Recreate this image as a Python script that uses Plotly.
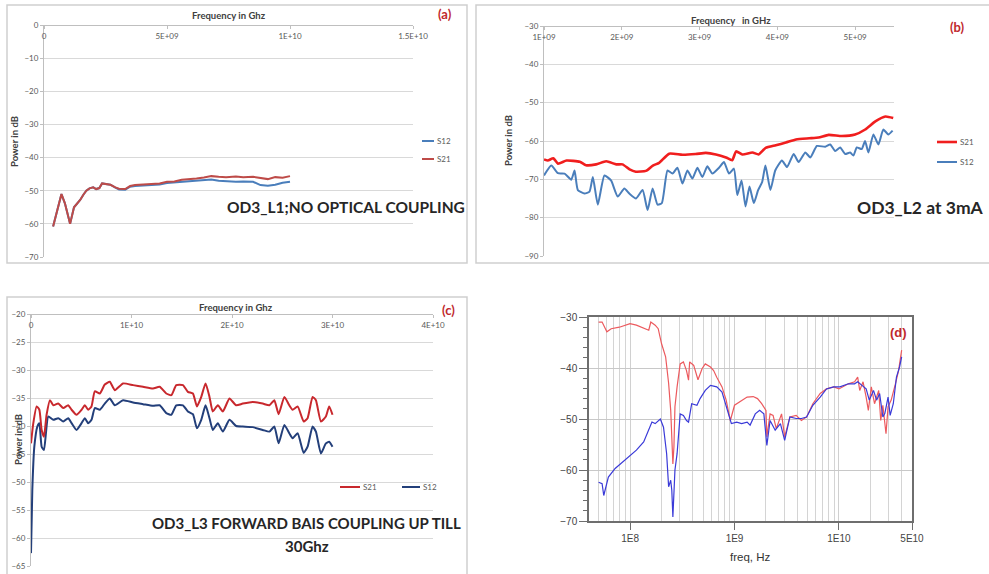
import plotly.graph_objects as go

W, H = 989, 574

# ---------------- Panel (a): OD3_L1, no optical coupling ----------------
a_freq_ghz = [0.37, 0.55, 0.71, 0.85, 0.95, 1.06, 1.22, 1.35, 1.47, 1.6, 1.72, 1.85, 2.0, 2.12,
              2.25, 2.36, 2.5, 2.7, 2.9, 3.05, 3.3, 3.5, 3.7, 4.0, 4.35, 4.7, 5.0, 5.3, 5.6, 5.9,
              6.2, 6.5, 6.8, 7.1, 7.4, 7.8, 8.1, 8.5, 8.8, 9.1, 9.4, 9.7, 10.0]
a_s21 = [-60.8, -55.5, -51.0, -53.8, -56.5, -60.0, -55.0, -54.0, -52.8, -51.2, -50.0, -49.3, -49.0,
         -49.5, -49.2, -47.8, -48.0, -48.2, -49.0, -49.4, -49.5, -48.6, -48.3, -48.1, -48.0, -47.8,
         -47.3, -47.2, -46.7, -46.6, -46.3, -46.0, -45.6, -45.8, -45.9, -45.7, -45.9, -45.8, -46.2,
         -46.5, -45.9, -46.1, -45.6]
a_s12 = [-60.8, -55.5, -51.0, -53.8, -56.5, -60.0, -55.0, -54.0, -52.8, -51.2, -50.0, -49.3, -49.0,
         -49.5, -49.2, -47.8, -48.0, -48.2, -49.1, -49.6, -49.7, -48.8, -48.6, -48.5, -48.4, -48.1,
         -47.7, -47.5, -47.2, -47.1, -47.0, -46.8, -46.6, -47.0, -47.2, -47.3, -47.2, -47.3, -48.3,
         -48.5, -48.2, -47.6, -47.3]
a_xticks = [0, 5e9, 1e10, 1.5e10]
a_xlabels = ["0", "5E+09", "1E+10", "1.5E+10"]

# ---------------- Panel (b): OD3_L2 at 3mA ----------------
b_s21_freq_ghz = [1.00, 1.05, 1.12, 1.18, 1.29, 1.46, 1.54, 1.67, 1.80, 1.93, 2.01, 2.10, 2.18, 2.31,
                  2.40, 2.48, 2.61, 2.78, 2.95, 3.08, 3.21, 3.34, 3.42, 3.47, 3.55, 3.68, 3.76, 3.85,
                  3.98, 4.11, 4.24, 4.41, 4.53, 4.66, 4.83, 5.00, 5.13, 5.26, 5.39, 5.49]
b_s21 = [-64.8, -65.1, -64.5, -65.9, -65.1, -65.4, -66.3, -66.1, -65.3, -66.1, -66.1, -67.4, -68.0,
         -67.8, -66.4, -65.7, -63.3, -63.6, -63.4, -63.1, -63.5, -64.3, -65.0, -62.7, -63.5, -63.0,
         -63.5, -61.8, -61.1, -60.4, -59.6, -59.3, -59.1, -58.4, -58.7, -58.3, -57.0, -54.9, -53.6,
         -54.0]
b_s12_freq_ghz = [1.000, 1.094, 1.179, 1.265, 1.350, 1.393, 1.435, 1.521, 1.585, 1.628, 1.692, 1.777,
                  1.862, 1.948, 2.033, 2.097, 2.183, 2.268, 2.332, 2.396, 2.460, 2.515, 2.588, 2.652,
                  2.716, 2.780, 2.844, 2.908, 2.972, 3.036, 3.100, 3.165, 3.250, 3.314, 3.378, 3.442,
                  3.485, 3.540, 3.591, 3.642, 3.698, 3.753, 3.805, 3.847, 3.911, 3.973, 4.059, 4.125,
                  4.210, 4.274, 4.360, 4.424, 4.509, 4.616, 4.680, 4.744, 4.808, 4.872, 4.936, 4.979,
                  5.021, 5.085, 5.128, 5.171, 5.235, 5.299, 5.363, 5.427, 5.482]
b_s12 = [-69.0, -66.4, -68.4, -68.5, -70.1, -67.7, -72.8, -73.7, -73.2, -69.4, -76.6, -69.0, -70.3,
         -74.5, -72.4, -73.7, -75.0, -72.8, -78.0, -72.4, -76.6, -76.2, -67.7, -68.5, -67.0, -71.1,
         -67.7, -69.8, -67.0, -69.4, -66.6, -68.5, -67.0, -65.5, -68.5, -67.2, -74.1, -70.3, -77.1,
         -71.9, -76.2, -72.8, -70.7, -66.4, -72.8, -67.7, -65.1, -66.8, -63.4, -65.5, -63.0, -64.3,
         -61.3, -61.5, -60.9, -62.6, -61.7, -63.4, -63.0, -63.8, -61.7, -62.1, -60.0, -63.0, -58.3,
         -60.9, -57.0, -58.3, -57.3]
b_xticks = [1e9, 2e9, 3e9, 4e9, 5e9]
b_xlabels = ["1E+09", "2E+09", "3E+09", "4E+09", "5E+09"]

# ---------------- Panel (c): OD3_L3 forward bias ----------------
c_freq_ghz = [0.0, 0.23, 0.56, 0.83, 1.06, 1.29, 1.55, 1.89, 2.22, 2.71, 3.21, 3.70, 4.04, 4.53, 5.03,
              5.36, 5.69, 6.02, 6.35, 6.85, 7.34, 7.84, 8.34, 9.16, 10.16, 11.15, 12.14, 12.80, 13.46,
              13.96, 14.46, 15.12, 15.61, 16.11, 16.51, 16.94, 17.37, 17.76, 18.09, 18.59, 19.09,
              19.75, 20.41, 21.07, 22.06, 23.06, 23.72, 24.21, 24.64, 25.21, 25.70, 26.03, 26.53,
              27.13, 27.52, 28.02, 28.35, 28.85, 29.34, 29.67, 30.00]
c_s21 = [-43.1, -39.5, -36.5, -37.1, -40.7, -41.9, -38.0, -35.4, -36.3, -36.0, -36.8, -36.3, -37.1,
         -38.0, -37.1, -36.3, -37.1, -36.5, -33.8, -34.2, -32.6, -32.1, -33.6, -32.4, -32.7, -33.0,
         -33.3, -33.0, -34.2, -34.5, -32.7, -32.7, -33.9, -34.2, -36.5, -34.8, -32.4, -34.8, -37.4,
         -36.3, -37.4, -35.1, -36.3, -36.0, -35.7, -36.0, -36.3, -35.4, -37.9, -34.8, -36.3, -37.1,
         -36.5, -39.2, -38.6, -34.8, -35.4, -39.2, -38.3, -36.5, -38.0]
c_s12 = [-62.7, -51.4, -43.7, -40.1, -39.5, -43.7, -44.3, -38.3, -38.9, -38.6, -39.2, -38.6, -39.5,
         -40.7, -39.5, -38.6, -39.5, -38.9, -36.8, -37.1, -36.0, -35.1, -36.3, -35.4, -35.8, -36.1,
         -36.4, -36.3, -37.7, -38.0, -36.3, -36.3, -37.4, -37.9, -40.4, -38.9, -36.3, -38.6, -40.7,
         -39.5, -41.0, -38.9, -40.0, -40.1, -40.2, -40.7, -41.0, -40.1, -43.1, -39.8, -41.3, -42.2,
         -41.3, -44.8, -43.7, -40.1, -41.0, -44.9, -43.1, -42.8, -43.7]
c_s12_freq_ghz = [0.0, 0.13, 0.33, 0.63, 0.83, 1.06, 1.29, 1.72, 2.22, 2.71, 3.21, 3.70, 4.04, 4.53,
                  5.03, 5.36, 5.69, 6.02, 6.35, 6.85, 7.34, 7.84, 8.34, 9.16, 10.16, 11.15, 12.14,
                  12.80, 13.46, 13.96, 14.46, 15.12, 15.61, 16.11, 16.51, 16.94, 17.37, 17.76, 18.09,
                  18.59, 19.09, 19.75, 20.41, 21.07, 22.06, 23.06, 23.72, 24.21, 24.64, 25.21, 25.70,
                  26.03, 26.53, 27.13, 27.52, 28.02, 28.35, 28.85, 29.34, 29.67, 30.00]
c_xticks = [0, 1e10, 2e10, 3e10, 4e10]
c_xlabels = ["0", "1E+10", "2E+10", "3E+10", "4E+10"]

# ---------------- Panel (d): log-frequency measurement ----------------
d_red_freq = [5.0e7, 5.4e7, 6.0e7, 6.6e7, 7.9e7, 1.0e8, 1.15e8, 1.38e8, 1.51e8, 1.58e8, 1.74e8, 1.86e8,
              2.0e8, 2.19e8, 2.34e8, 2.45e8, 2.57e8, 2.63e8, 2.69e8, 2.82e8, 3.02e8, 3.24e8, 3.47e8,
              3.63e8, 3.72e8, 4.07e8, 4.37e8, 4.47e8, 4.9e8, 5.25e8, 5.89e8, 6.31e8, 6.76e8, 7.59e8,
              8.32e8, 9.12e8, 1.0e9, 1.12e9, 1.32e9, 1.51e9, 1.66e9, 1.82e9, 2.0e9, 2.04e9, 2.19e9,
              2.34e9, 2.51e9, 2.82e9, 3.02e9, 3.39e9, 3.89e9, 4.37e9, 4.9e9, 5.62e9, 6.61e9, 7.59e9,
              8.91e9, 1.0e10, 1.23e10, 1.41e10, 1.51e10, 1.58e10, 1.7e10, 1.82e10, 1.91e10, 2.04e10,
              2.19e10, 2.4e10, 2.51e10, 2.63e10, 2.82e10, 2.95e10, 3.16e10, 3.47e10, 3.72e10, 3.98e10]
d_red = [-31.0, -31.0, -32.9, -32.3, -32.0, -31.3, -31.6, -32.3, -32.6, -31.0, -31.6, -32.3, -35.2,
         -37.8, -43.0, -48.3, -58.8, -55.5, -47.6, -43.7, -39.2, -38.8, -40.5, -42.4, -38.8, -39.5,
         -41.4, -42.3, -40.1, -39.2, -39.8, -40.5, -41.8, -43.7, -46.3, -50.3, -47.3, -46.7, -45.7,
         -45.6, -46.0, -47.0, -48.3, -53.5, -49.0, -49.3, -51.9, -49.0, -53.5, -49.6, -49.3, -50.3,
         -49.6, -47.0, -45.0, -44.1, -43.7, -44.1, -43.1, -42.7, -41.8, -44.4, -42.7, -45.7, -48.3,
         -43.7, -47.0, -44.4, -50.3, -47.3, -52.9, -47.6, -46.3, -43.1, -40.5, -36.5]
d_blue_freq = [5.0e7, 5.4e7, 5.6e7, 5.9e7, 6.2e7, 7.2e7, 7.8e7, 8.7e7, 1.0e8, 1.15e8, 1.35e8, 1.51e8,
               1.62e8, 1.74e8, 1.95e8, 2.09e8, 2.24e8, 2.34e8, 2.45e8, 2.51e8, 2.57e8, 2.69e8, 2.82e8,
               3.02e8, 3.24e8, 3.47e8, 3.63e8, 3.89e8, 4.37e8, 4.68e8, 5.25e8, 5.89e8, 6.76e8, 7.59e8,
               8.32e8, 9.33e8, 1.05e9, 1.17e9, 1.32e9, 1.41e9, 1.58e9, 1.74e9, 1.91e9, 2.04e9, 2.19e9,
               2.45e9, 2.75e9, 3.02e9, 3.39e9, 3.89e9, 4.37e9, 4.9e9, 5.62e9, 6.61e9, 7.59e9, 8.91e9,
               1.02e10, 1.23e10, 1.41e10, 1.51e10, 1.66e10, 1.82e10, 1.95e10, 2.14e10, 2.29e10,
               2.45e10, 2.63e10, 2.75e10, 2.95e10, 3.09e10, 3.31e10, 3.55e10, 3.8e10, 3.98e10]
d_blue = [-62.4, -62.7, -65.0, -63.3, -61.4, -59.7, -59.1, -58.1, -57.1, -56.1, -54.5, -52.2, -50.6,
          -50.9, -50.0, -51.6, -56.8, -63.3, -62.0, -64.0, -69.2, -60.0, -56.8, -49.0, -49.3, -50.3,
          -50.6, -47.0, -47.3, -46.0, -44.4, -43.4, -43.7, -44.7, -47.6, -50.9, -50.6, -50.9, -50.6,
          -51.2, -49.0, -48.3, -49.0, -55.2, -50.3, -52.2, -50.9, -54.2, -49.6, -49.9, -49.9, -49.6,
          -47.3, -45.7, -44.1, -43.7, -43.7, -43.1, -43.1, -42.7, -43.4, -44.1, -46.3, -44.4, -46.3,
          -45.0, -49.6, -48.9, -45.7, -49.3, -47.0, -41.8, -39.8, -37.8]
d_xticks = [1e8, 1e9, 1e10, 5e10]
d_xlabels = ["1E8", "1E9", "1E10", "5E10"]
d_minor = [m * 10 ** e for e in (7, 8, 9, 10) for m in range(1, 10) if 4.1e7 <= m * 10 ** e <= 5e10]


def fx(p):
    return p / W


def fy(p):
    return 1 - p / H


XL = "Lato"
ARIAL = "Liberation Sans"
GRID = "#d9d9d9"
AXC = "#bfbfbf"
TICKF = dict(family=XL, size=8, color="#595959")

fig = go.Figure()

# (a)
fig.add_trace(go.Scatter(x=[f * 1e9 for f in a_freq_ghz], y=a_s12, mode="lines", name="S12",
                         line=dict(color="#4a7ebb", width=2), xaxis="x", yaxis="y", showlegend=False))
fig.add_trace(go.Scatter(x=[f * 1e9 for f in a_freq_ghz], y=a_s21, mode="lines", name="S21",
                         line=dict(color="#be4b48", width=2), xaxis="x", yaxis="y", showlegend=False))
# (b)
fig.add_trace(go.Scatter(x=[f * 1e9 for f in b_s12_freq_ghz], y=b_s12, mode="lines", name="S12",
                         line=dict(color="#4a7ebb", width=2, shape="spline", smoothing=0.5),
                         xaxis="x2", yaxis="y2", showlegend=False))
fig.add_trace(go.Scatter(x=[f * 1e9 for f in b_s21_freq_ghz], y=b_s21, mode="lines", name="S21",
                         line=dict(color="#f01e1e", width=2.6, shape="spline", smoothing=0.5),
                         xaxis="x2", yaxis="y2", showlegend=False))
# (c)
fig.add_trace(go.Scatter(x=[f * 1e9 for f in c_s12_freq_ghz], y=c_s12, mode="lines", name="S12",
                         line=dict(color="#233f7a", width=2, shape="spline", smoothing=0.5),
                         xaxis="x3", yaxis="y3", showlegend=False))
fig.add_trace(go.Scatter(x=[f * 1e9 for f in c_freq_ghz], y=c_s21, mode="lines", name="S21",
                         line=dict(color="#c8282d", width=2, shape="spline", smoothing=0.5),
                         xaxis="x3", yaxis="y3", showlegend=False))
# (d)
fig.add_trace(go.Scatter(x=d_red_freq, y=d_red, mode="lines", name="S21",
                         line=dict(color="#ec5a5e", width=1.2), xaxis="x4", yaxis="y4", showlegend=False))
fig.add_trace(go.Scatter(x=d_blue_freq, y=d_blue, mode="lines", name="S12",
                         line=dict(color="#3a3ad8", width=1.2), xaxis="x4", yaxis="y4", showlegend=False))


def excel_x(dom, top_px, rng, tv, tt):
    # Excel-style: the category axis crosses at the top value, labels hang below the axis line
    return dict(domain=dom, anchor="free", position=fy(top_px), side="bottom", range=rng,
                tickvals=tv, ticktext=tt, showgrid=False, zeroline=False, showline=True,
                linecolor=AXC, linewidth=1, ticks="outside", ticklen=3, tickcolor=AXC,
                tickfont=TICKF, fixedrange=True, automargin=False)


def excel_y(dom, anchor, rng, dt):
    return dict(domain=dom, anchor=anchor, range=rng, dtick=dt, showgrid=True, gridcolor=GRID,
                gridwidth=1, zeroline=False, showline=True, linecolor=AXC, linewidth=1,
                ticks="outside", ticklen=3, tickcolor=AXC, tickfont=TICKF, fixedrange=True,
                automargin=False)


fig.update_layout(
    width=W, height=H, margin=dict(l=0, r=0, t=0, b=0, pad=0, autoexpand=False),
    paper_bgcolor="white", plot_bgcolor="white", showlegend=False,
    xaxis=excel_x([fx(44), fx(413)], 25, [0, 1.5e10], a_xticks, a_xlabels),
    yaxis=excel_y([fy(257), fy(25)], "x", [-70, 0], 10),
    xaxis2=excel_x([fx(544), fx(894)], 26, [1e9, 5.5e9], b_xticks, b_xlabels),
    yaxis2=excel_y([fy(256), fy(26)], "x2", [-90, -30], 10),
    xaxis3=excel_x([fx(31), fx(433)], 314, [0, 4e10], c_xticks, c_xlabels),
    yaxis3=excel_y([fy(566), fy(314)], "x3", [-65, -20], 5),
    xaxis4=dict(domain=[fx(589), fx(912)], anchor="y4", type="log", range=[7.607, 10.699],
                tickvals=d_xticks, ticktext=d_xlabels, showgrid=True, gridcolor="#d0d0d0",
                showline=True, mirror=True, linecolor="#6e6e6e", linewidth=1.5, ticks="outside",
                ticklen=7, tickcolor="#6e6e6e", tickfont=dict(family=ARIAL, size=10, color="#444"),
                minor=dict(tickvals=d_minor, showgrid=True, gridcolor="#d4d4d4", ticks=""),
                zeroline=False, fixedrange=True, automargin=False),
    yaxis4=dict(domain=[fy(521), fy(317)], anchor="x4", range=[-70, -30], dtick=10,
                showgrid=True, gridcolor="#c8c8c8", showline=True, mirror=True, linecolor="#6e6e6e",
                linewidth=1.5, ticks="outside", ticklen=8, tickcolor="#6e6e6e",
                tickfont=dict(family=ARIAL, size=10, color="#444"),
                minor=dict(dtick=2, ticks="outside", ticklen=4, tickcolor="#6e6e6e", showgrid=False),
                zeroline=False, fixedrange=True, automargin=False),
)

shapes = []
# chart-area borders of the three Excel panels
for x0, y0, x1, y1 in [(7, 5, 467, 263), (476, 5, 995, 263), (7, 297, 467, 580)]:
    shapes.append(dict(type="rect", xref="paper", yref="paper", x0=fx(x0), x1=fx(x1), y0=fy(y1),
                       y1=fy(y0), line=dict(color="#cfcfcf", width=1.5), layer="below"))


def legend_item(x0, x1, y, color, label, width=2):
    shapes.append(dict(type="line", xref="paper", yref="paper", x0=fx(x0), x1=fx(x1), y0=fy(y),
                       y1=fy(y), line=dict(color=color, width=width)))
    return dict(text=label, x=fx(x1 + 1), y=fy(y), xref="paper", yref="paper", xanchor="left",
                yanchor="middle", showarrow=False, font=dict(family=XL, size=8, color="#595959"))


ann = []
ann.append(legend_item(422, 434, 141, "#4a7ebb", "S12"))
ann.append(legend_item(422, 434, 159, "#be4b48", "S21"))
ann.append(legend_item(937, 957, 142, "#f01e1e", "S21", 2.6))
ann.append(legend_item(937, 957, 162, "#4a7ebb", "S12"))
ann.append(legend_item(340, 360, 487, "#c8282d", "S21"))
ann.append(legend_item(402, 420, 487, "#233f7a", "S12"))


def text(t, x, y, size, color="#262626", bold=True, family=XL, angle=0, xanchor="center"):
    return dict(text=f"<b>{t}</b>" if bold else t, x=fx(x), y=fy(y), xref="paper", yref="paper",
                xanchor=xanchor, yanchor="middle", showarrow=False, textangle=angle,
                font=dict(family=family, size=size, color=color))


ann += [
    text("Frequency in Ghz", 229, 15, 9.5, "#404040"),
    text("(a)", 445, 14, 13, "#c0282d"),
    text("Power in dB", 15, 142, 9.5, "#404040", angle=-90),
    text("OD3_L1;NO OPTICAL COUPLING", 346, 207, 15.5),
    text("Frequency\u00a0\u00a0\u00a0in GHz", 731, 20, 9.5, "#404040"),
    text("(b)", 957, 27, 13, "#c0282d"),
    text("Power in dB", 508, 140, 9.5, "#404040", angle=-90),
    text("OD3_L2 at 3mA", 920, 207, 17.5),
    text("Frequency in Ghz", 236, 307, 9.5, "#404040"),
    text("(c)", 448, 310, 13, "#c0282d"),
    text("Power in dB", 18, 440, 9.5, "#404040", angle=-90),
    text("OD3_L3 FORWARD BAIS COUPLING UP TILL", 306, 523, 15),
    text("30Ghz", 307, 546, 15),
    text("(d)", 898, 332, 13, "#c0282d", family=ARIAL),
    text("freq, Hz", 750, 557, 11.5, "#333333", bold=False, family=ARIAL),
]

fig.update_layout(shapes=shapes, annotations=ann)
fig.write_html("out.html")
